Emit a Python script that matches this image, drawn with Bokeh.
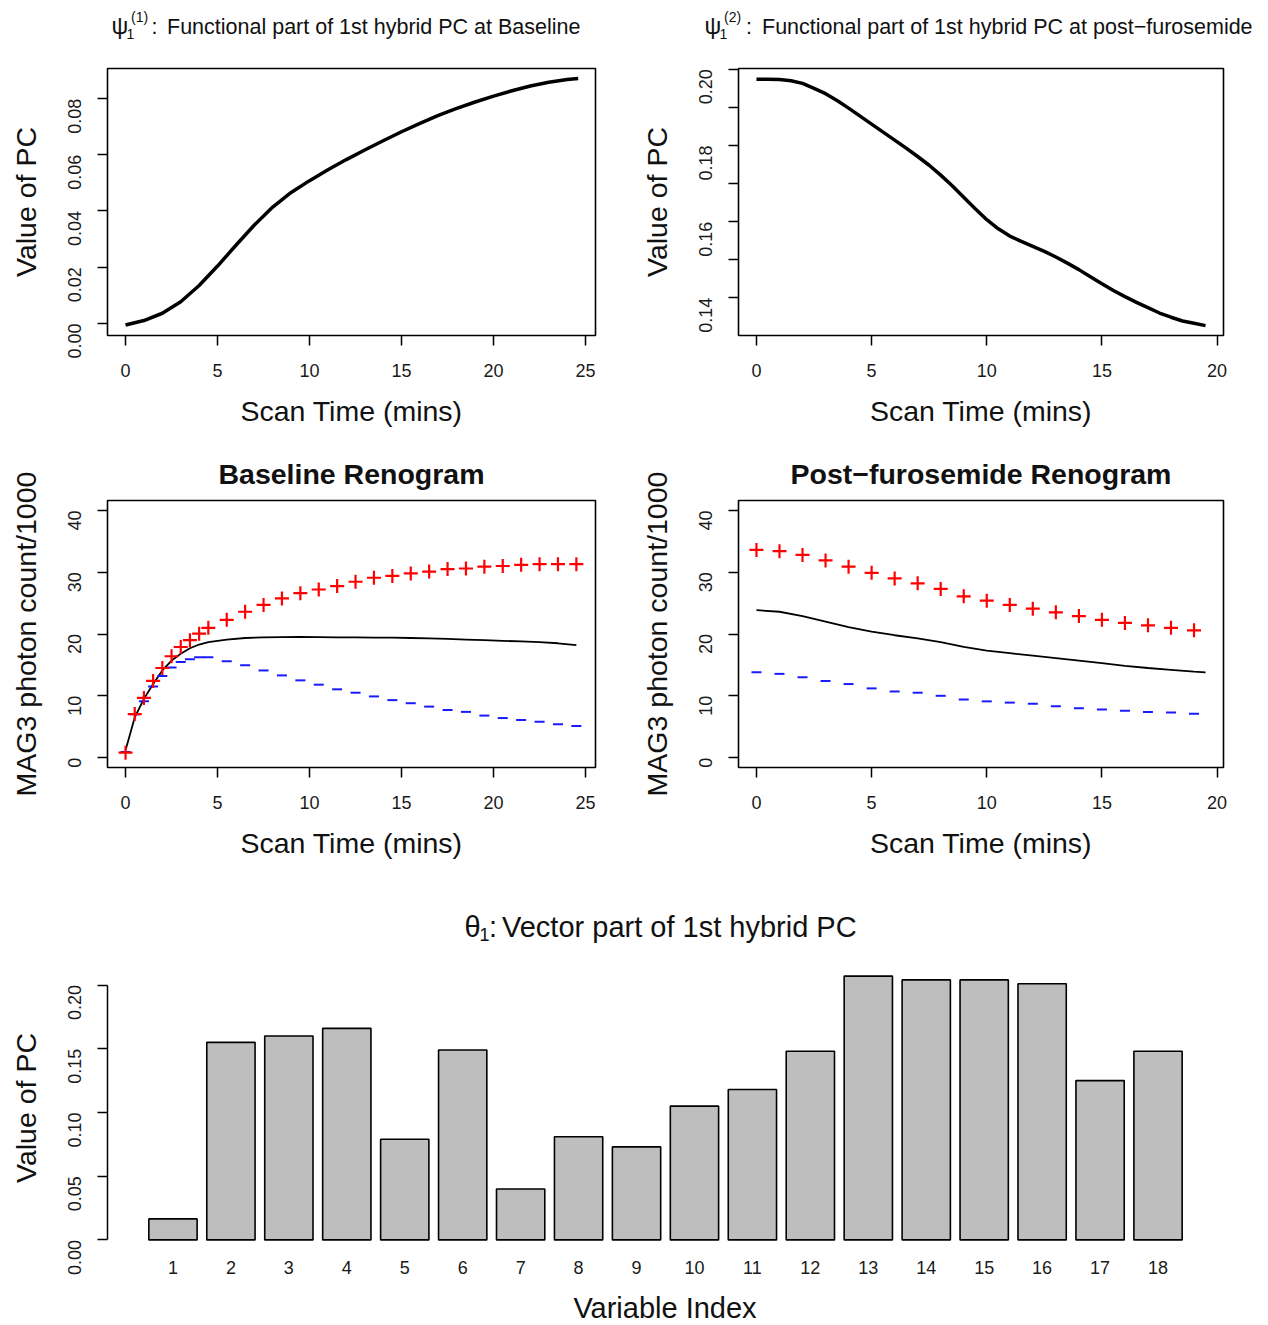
import math
from bokeh.plotting import figure
from bokeh.layouts import column, row
from bokeh.models import Range1d, FixedTicker, PrintfTickFormatter, Div
from bokeh.embed import file_html
from bokeh.resources import INLINE

FONT = "Liberation Sans"

# ---------------- data ----------------
# psi_1^(1): functional part at baseline
psi1_time = [0, 1, 2, 3, 4, 5, 6, 7, 8, 9, 10, 11, 12, 13, 14, 15, 16, 17, 18,
             19, 20, 21, 22, 23, 24, 24.6]
psi1_value = [-0.0006, 0.0010, 0.0036, 0.0077, 0.0135, 0.0204, 0.0278, 0.0350,
              0.0414, 0.0466, 0.0508, 0.0547, 0.0583, 0.0617, 0.0650, 0.0682,
              0.0712, 0.0740, 0.0765, 0.0788, 0.0809, 0.0828, 0.0845, 0.0858,
              0.0868, 0.0872]

# psi_1^(2): functional part at post-furosemide
psi2_time = [0, 0.5, 1, 1.5, 2, 2.5, 3, 3.5, 4, 4.5, 5, 5.5, 6, 6.5, 7, 7.5, 8,
             8.5, 9, 9.5, 10, 10.5, 11, 11.5, 12, 12.5, 13, 13.5, 14, 14.5, 15,
             15.5, 16, 16.5, 17, 17.5, 18, 18.5, 19, 19.5]
psi2_value = [0.1974, 0.1974, 0.1973, 0.1970, 0.1963, 0.1950, 0.1936, 0.1918,
              0.1898, 0.1877, 0.1856, 0.1835, 0.1814, 0.1793, 0.1771, 0.1748,
              0.1722, 0.1694, 0.1664, 0.1634, 0.1605, 0.1581, 0.1562, 0.1548,
              0.1535, 0.1522, 0.1507, 0.1491, 0.1474, 0.1455, 0.1437, 0.1419,
              0.1403, 0.1388, 0.1374, 0.1360, 0.1349, 0.1339, 0.1333, 0.1327]

# Baseline renogram
base_time = [0, 0.5, 1, 1.5, 2, 2.5, 3, 3.5, 4, 4.5, 5.5, 6.5, 7.5, 8.5, 9.5,
             10.5, 11.5, 12.5, 13.5, 14.5, 15.5, 16.5, 17.5, 18.5, 19.5, 20.5,
             21.5, 22.5, 23.5, 24.5]
base_observed = [0.8, 7.05, 9.65, 12.4, 14.5, 16.4, 17.9, 19.0, 20.05, 21.0,
                 22.3, 23.6, 24.7, 25.75, 26.6, 27.2, 27.75, 28.45, 29.1, 29.4,
                 29.8, 30.1, 30.5, 30.6, 30.9, 31.0, 31.2, 31.3, 31.3, 31.3]
base_fitted = [1.2, 6.5, 9.5, 11.9, 14.1, 15.7, 16.8, 17.7, 18.3, 18.7, 19.1,
               19.35, 19.45, 19.5, 19.55, 19.5, 19.45, 19.45, 19.4, 19.4, 19.35,
               19.3, 19.2, 19.1, 19.0, 18.9, 18.8, 18.7, 18.5, 18.2]
base_component = [0.9, 7.0, 9.1, 11.5, 13.2, 14.6, 15.45, 15.9, 16.25, 16.25,
                  15.6, 14.95, 14.1, 13.3, 12.5, 11.8, 11.05, 10.5, 9.9, 9.3,
                  8.8, 8.25, 7.7, 7.4, 6.8, 6.4, 6.1, 5.8, 5.4, 5.1]

# Post-furosemide renogram
post_time = [0, 1, 2, 3, 4, 5, 6, 7, 8, 9, 10, 11, 12, 13, 14, 15, 16, 17, 18, 19]
post_observed = [33.6, 33.4, 32.8, 31.9, 30.9, 29.9, 29.0, 28.2, 27.3, 26.1,
                 25.4, 24.7, 24.1, 23.5, 22.9, 22.3, 21.8, 21.4, 21.0, 20.6]
post_component = [13.8, 13.55, 13.0, 12.4, 11.9, 11.2, 10.7, 10.5, 10.0, 9.4,
                  9.1, 8.9, 8.7, 8.3, 8.0, 7.8, 7.6, 7.4, 7.3, 7.1]
post_fit_time = [0, 1, 2, 3, 4, 5, 6, 7, 8, 9, 10, 11, 12, 13, 14, 15, 16, 17,
                 18, 19, 19.5]
post_fitted = [23.85, 23.6, 22.9, 22.0, 21.1, 20.4, 19.8, 19.3, 18.7, 17.9,
               17.3, 16.9, 16.5, 16.1, 15.7, 15.3, 14.85, 14.5, 14.2, 13.9, 13.8]

# theta_1: vector part
variable_index = list(range(1, 19))
theta_value = [0.0165, 0.155, 0.160, 0.166, 0.079, 0.149, 0.040, 0.081, 0.073,
               0.105, 0.118, 0.148, 0.207, 0.204, 0.204, 0.201, 0.125, 0.148]

# tick values
psi1_ticks = [0.0, 0.02, 0.04, 0.06, 0.08]
psi2_ticks = [0.14, 0.16, 0.18, 0.20]
psi2_minor = [0.15, 0.17, 0.19]
time25_ticks = [0, 5, 10, 15, 20, 25]
time20_ticks = [0, 5, 10, 15, 20]
count_ticks = [0, 10, 20, 30, 40]
theta_ticks = [0.0, 0.05, 0.10, 0.15, 0.20]

PAGE_W = 1268
TXT = "#111111"
ASC = 0.8465  # baseline position inside a line-height:1 box (Liberation Sans)


# ---------------- helpers ----------------
def base_fig(width, height, left, right, top, bottom, xr, yr, box=True):
    p = figure(width=width, height=height, x_range=Range1d(*xr),
               y_range=Range1d(*yr), output_backend="svg",
               toolbar_location=None, min_border_left=left,
               min_border_right=right, min_border_top=top,
               min_border_bottom=bottom)
    p.xgrid.visible = False
    p.ygrid.visible = False
    p.background_fill_color = "white"
    p.border_fill_color = "white"
    if box:
        p.outline_line_color = "black"
        p.outline_line_width = 1.6
    else:
        p.outline_line_color = None
    for ax in (p.xaxis[0], p.yaxis[0]):
        ax.axis_line_color = None
        ax.major_tick_line_color = "black"
        ax.major_tick_line_width = 1.5
        ax.major_tick_out = 10
        ax.major_tick_in = 0
        ax.minor_tick_line_color = None
        ax.major_label_text_font = FONT
        ax.major_label_text_font_size = "18px"
        ax.major_label_text_color = "#1a1a1a"
        ax.axis_label_text_font = FONT
        ax.axis_label_text_font_size = "28.5px"
        ax.axis_label_text_font_style = "normal"
        ax.axis_label_text_color = TXT
    p.yaxis[0].major_label_orientation = math.pi / 2
    p.yaxis[0].major_label_standoff = 23
    p.yaxis[0].axis_label_standoff = 17
    p.xaxis[0].major_label_standoff = 18
    p.xaxis[0].axis_label_standoff = 15
    return p


def strip(y0, height, items):
    spans = []
    for s, left, baseline, size in items:
        top = baseline - y0 - ASC * size
        spans.append(
            f'<span style="position:absolute;left:{left}px;top:{top:.1f}px;'
            f'font-size:{size}px;line-height:1;white-space:nowrap;">{s}</span>')
    html = (f'<div style="position:relative;width:{PAGE_W}px;height:{height}px;'
            f"font-family:'{FONT}';color:{TXT};margin:0;padding:0;\">"
            + "".join(spans) + "</div>")
    return Div(text=html, width=PAGE_W, height=height, margin=(0, 0, 0, 0))


def set_title(p, s):
    p.title.text = s
    p.title.align = "center"
    p.title.text_font = FONT
    p.title.text_font_size = "28.5px"
    p.title.text_font_style = "bold"
    p.title.text_color = TXT
    p.title.vertical_align = "bottom"
    p.title.standoff = 22


# ---------------- title strip 1 ----------------
t1 = strip(0, 48, [
    ("ψ", 111.5, 34.5, 23.5),
    ("1", 126.5, 38.5, 14),
    ("(1)", 131, 22, 14),
    (":", 151.5, 35, 21.5),
    ("Functional part of 1st hybrid PC at Baseline", 167, 35, 21.5),
    ("ψ", 704.5, 34.5, 23.5),
    ("1", 719.5, 38.5, 14),
    ("(2)", 724, 22, 14),
    (":", 746, 35, 21.5),
    ("Functional part of 1st hybrid PC at post\u2212furosemide", 762, 35, 21.5),
])

# ---------------- top-left ----------------
p1 = base_fig(637, 392, 107, 42, 20, 105, (-0.98, 25.54), (-0.00432, 0.09072))
p1.line(psi1_time, psi1_value, line_color="black", line_width=3.5)
p1.xaxis[0].ticker = FixedTicker(ticks=time25_ticks)
p1.yaxis[0].ticker = FixedTicker(ticks=psi1_ticks)
p1.yaxis[0].formatter = PrintfTickFormatter(format="%.2f")
p1.xaxis[0].axis_label = "Scan Time (mins)"
p1.yaxis[0].axis_label = "Value of PC"

# ---------------- top-right ----------------
p2 = base_fig(631, 392, 99, 45, 20, 105, (-0.78, 20.28), (0.1301, 0.2002))
p2.line(psi2_time, psi2_value, line_color="black", line_width=3.5)
p2.xaxis[0].ticker = FixedTicker(ticks=time20_ticks)
p2.yaxis[0].ticker = FixedTicker(ticks=psi2_ticks, minor_ticks=psi2_minor)
p2.yaxis[0].minor_tick_line_color = "black"
p2.yaxis[0].minor_tick_line_width = 1.5
p2.yaxis[0].minor_tick_out = 10
p2.yaxis[0].minor_tick_in = 0
p2.yaxis[0].formatter = PrintfTickFormatter(format="%.2f")
p2.xaxis[0].axis_label = "Scan Time (mins)"
p2.yaxis[0].axis_label = "Value of PC"

# ---------------- middle-left ----------------
p3 = base_fig(637, 440, 107, 42, 60, 113, (-0.98, 25.54), (-1.6, 41.6))
p3.line(base_time, base_fitted, line_color="black", line_width=1.8)
p3.scatter(base_time, base_component, marker="dash", size=10,
           line_color="#1a1aff", line_width=2)
p3.scatter(base_time, base_observed, marker="cross", size=14,
           line_color="red", line_width=2.2)
p3.xaxis[0].ticker = FixedTicker(ticks=time25_ticks)
p3.yaxis[0].ticker = FixedTicker(ticks=count_ticks)
p3.xaxis[0].axis_label = "Scan Time (mins)"
p3.yaxis[0].axis_label = "MAG3 photon count/1000"
set_title(p3, "Baseline Renogram")

# ---------------- middle-right ----------------
p4 = base_fig(631, 440, 99, 45, 60, 113, (-0.78, 20.28), (-1.6, 41.6))
p4.line(post_fit_time, post_fitted, line_color="black", line_width=1.8)
p4.scatter(post_time, post_component, marker="dash", size=10,
           line_color="#1a1aff", line_width=2)
p4.scatter(post_time, post_observed, marker="cross", size=14,
           line_color="red", line_width=2.2)
p4.xaxis[0].ticker = FixedTicker(ticks=time20_ticks)
p4.yaxis[0].ticker = FixedTicker(ticks=count_ticks)
p4.xaxis[0].axis_label = "Scan Time (mins)"
p4.yaxis[0].axis_label = "MAG3 photon count/1000"
set_title(p4, "Post\u2212furosemide Renogram")

# ---------------- title strip 3 ----------------
t3 = strip(880, 75, [
    ("θ", 464.5, 937, 29),
    ("1", 479.5, 941, 18),
    (":", 489, 937, 29),
    ("Vector part of 1st hybrid PC", 502, 937, 29),
])

# ---------------- bottom bars ----------------
p5 = base_fig(1268, 327, 107, 45, 10, 32, (-0.13, 19.13), (-0.0083, 0.2153),
              box=False)
p5.vbar(x=variable_index, top=theta_value, width=1 / 1.2, bottom=0,
        fill_color="#BEBEBE", line_color="black", line_width=1.6)
p5.xaxis[0].ticker = FixedTicker(ticks=variable_index)
p5.xaxis[0].major_tick_line_color = None
p5.xaxis[0].major_tick_out = 0
p5.xaxis[0].major_label_standoff = 10
p5.yaxis[0].ticker = FixedTicker(ticks=theta_ticks)
p5.yaxis[0].formatter = PrintfTickFormatter(format="%.2f")
p5.yaxis[0].axis_line_color = "black"
p5.yaxis[0].axis_line_width = 1.5
p5.yaxis[0].bounds = (0, 0.2)
p5.yaxis[0].axis_label = "Value of PC"

t4 = Div(text=(f'<div style="position:relative;width:{PAGE_W}px;height:43px;'
               f"font-family:'{FONT}';color:{TXT};\">"
               f'<span style="position:absolute;left:0;width:{2 * 665}px;'
               f'text-align:center;top:{1318 - 1282 - ASC * 29:.1f}px;'
               f'font-size:29px;line-height:1;white-space:nowrap;">'
               f'Variable Index</span></div>'),
         width=PAGE_W, height=43, margin=(0, 0, 0, 0))

layout = column(t1, row(p1, p2), row(p3, p4), t3, p5, t4)
with open("out.html", "w", encoding="utf-8") as f:
    f.write(file_html(layout, INLINE))
